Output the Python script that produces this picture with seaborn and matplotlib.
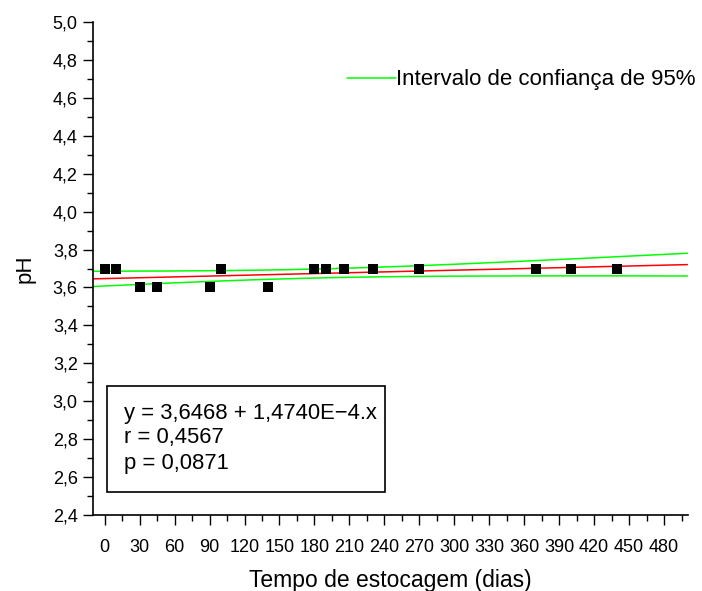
import numpy as np
import pandas as pd
import matplotlib
matplotlib.use("Agg")
import matplotlib.pyplot as plt
import seaborn as sns
from matplotlib.patches import Rectangle
from matplotlib.ticker import MultipleLocator, FixedLocator

# ---- data ----
dias = [0, 10, 30, 45, 90, 100, 140, 180, 190, 205, 230, 270, 370, 400, 440]
ph = [3.7, 3.7, 3.6, 3.6, 3.6, 3.7, 3.6, 3.7, 3.7, 3.7, 3.7, 3.7, 3.7, 3.7, 3.7]
x_ticks = [0, 30, 60, 90, 120, 150, 180, 210, 240, 270, 300, 330, 360, 390, 420, 450, 480]
y_ticks = [2.4, 2.6, 2.8, 3.0, 3.2, 3.4, 3.6, 3.8, 4.0, 4.2, 4.4, 4.6, 4.8, 5.0]
eq_lines = ["y = 3,6468 + 1,4740E\u22124.x", "r = 0,4567", "p = 0,0871"]
legend_label = "Intervalo de confiança de 95%"
t_crit = 2.1604  # t(0.975, 13)

sns.set_theme(style="ticks")
plt.rcParams['font.family'] = ['Liberation Sans', 'DejaVu Sans']
plt.rcParams.update({"text.color": "black", "axes.labelcolor": "black",
                     "xtick.color": "black", "ytick.color": "black",
                     "axes.edgecolor": "black"})

df = pd.DataFrame({"dias": dias, "ph": ph})

# linear regression and 95% confidence band of the mean response
x = np.asarray(dias, float)
y = np.asarray(ph, float)
n = len(x)
xm = x.mean()
sxx = ((x - xm) ** 2).sum()
b = ((x - xm) * (y - y.mean())).sum() / sxx
a = y.mean() - b * xm
s = np.sqrt(((y - (a + b * x)) ** 2).sum() / (n - 2))
xg = np.linspace(-10, 500, 300)
fit = a + b * xg
half = t_crit * s * np.sqrt(1.0 / n + (xg - xm) ** 2 / sxx)

fig = plt.figure(figsize=(7.02, 5.91), dpi=100)
ax = fig.add_axes([93 / 702, 1 - 515 / 591, (688 - 93) / 702, (515 - 22) / 591])

sns.scatterplot(data=df, x="dias", y="ph", ax=ax, marker="s", s=60,
                color="black", edgecolor="black", linewidth=0, zorder=3, legend=False)
ax.plot(xg, fit, color="#ff0000", lw=1.1, zorder=2)
ax.plot(xg, fit + half, color="#00ff00", lw=1.1, zorder=2, label=legend_label)
ax.plot(xg, fit - half, color="#00ff00", lw=1.1, zorder=2)

ax.set_xlim(-10, 500.5)
ax.set_ylim(2.4, 5.0)
ax.xaxis.set_major_locator(FixedLocator(x_ticks))
ax.xaxis.set_minor_locator(MultipleLocator(15))
ax.yaxis.set_major_locator(FixedLocator(y_ticks))
ax.yaxis.set_minor_locator(MultipleLocator(0.1))
ax.set_xticklabels([str(v) for v in x_ticks])
ax.set_yticklabels([f"{v:.1f}".replace(".", ",") for v in y_ticks])
ax.tick_params(axis="both", which="major", direction="out", length=7, width=1,
               labelsize=13, colors="black")
ax.tick_params(axis="x", which="major", pad=10)
ax.tick_params(axis="y", which="major", pad=4)
ax.tick_params(axis="both", which="minor", direction="out", length=4, width=1, colors="black")
for sp in ["top", "right"]:
    ax.spines[sp].set_visible(False)
for sp in ["left", "bottom"]:
    ax.spines[sp].set_linewidth(1.2)
    ax.spines[sp].set_color("black")

ax.set_xlabel("Tempo de estocagem (dias)", fontsize=16.5, labelpad=10, color="black")
ax.set_ylabel("pH", fontsize=16, labelpad=12, color="black")

leg = ax.legend(loc="center left", bbox_to_anchor=(347 / 702, 1 - 80 / 591),
                bbox_transform=fig.transFigure, frameon=False, fontsize=16,
                handlelength=2.2, handletextpad=0.0, borderpad=0, borderaxespad=0)
for t in leg.get_texts():
    t.set_color("black")

# statistics box
fig.patches.append(Rectangle((107 / 702, 1 - 492 / 591), 278 / 702, 106 / 591,
                             transform=fig.transFigure, fill=False,
                             edgecolor="black", linewidth=1.2))
for i, line in enumerate(eq_lines):
    fig.text(124 / 702, 1 - (413 + 25 * i) / 591, line, fontsize=15.8,
             va="center", ha="left", color="black")

fig.savefig("out.png", dpi=100)
